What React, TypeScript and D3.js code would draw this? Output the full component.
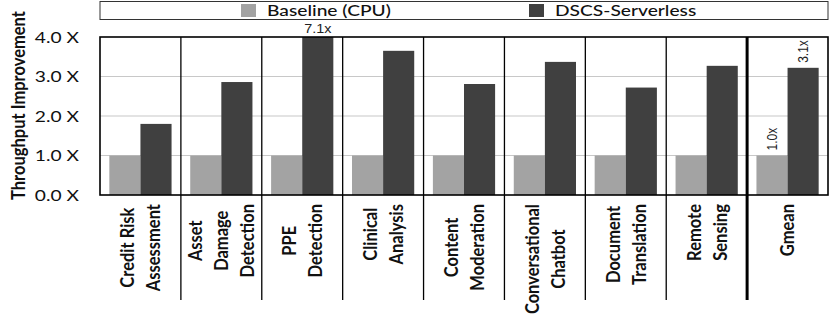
import React, { useRef, useEffect } from 'react';
import * as d3 from 'd3';

// category labels, one entry per line
const categories: string[][] = [
  ['Credit Risk', 'Assessment'],
  ['Asset', 'Damage', 'Detection'],
  ['PPE', 'Detection'],
  ['Clinical', 'Analysis'],
  ['Content', 'Moderation'],
  ['Conversational', 'Chatbot'],
  ['Document', 'Translation'],
  ['Remote', 'Sensing'],
  ['Gmean'],
];
const seriesNames = ['Baseline (CPU)', 'DSCS-Serverless'];
const baseline = [1, 1, 1, 1, 1, 1, 1, 1, 1];
const dscs = [1.8, 2.86, 7.1, 3.65, 2.81, 3.37, 2.72, 3.27, 3.22];
const yTicks = [0, 1, 2, 3, 4];
const yTickLabels = ['0.0 X', '1.0 X', '2.0 X', '3.0 X', '4.0 X'];
// value labels: category index, series index, text, rotated?
const barLabels = [
  { cat: 2, series: 1, text: '7.1x', rotated: false },
  { cat: 8, series: 0, text: '1.0x', rotated: true },
  { cat: 8, series: 1, text: '3.1x', rotated: true },
];

const colors = ['#a3a3a3', '#404040'];
const SX = 1.2; // the original picture is stretched horizontally
const FONT = 'Lato, "Open Sans", sans-serif';

function drawChart(node: SVGSVGElement) {
  const svg = d3.select(node);
  svg.selectAll('*').remove();

  const margin = { top: 37, right: 2, bottom: 121, left: 100 };
  const W = 830, H = 316;
  const innerW = W - margin.left - margin.right;
  const innerH = H - margin.top - margin.bottom;
  const maxY = 4;

  const x0 = d3.scaleBand<number>()
    .domain(categories.map((_, i) => i))
    .range([margin.left, margin.left + innerW]);
  const x1 = d3.scaleBand<number>()
    .domain([0, 1])
    .range([0, x0.bandwidth()])
    .paddingInner(0)
    .paddingOuter(0.3);
  const y = d3.scaleLinear().domain([0, maxY]).range([margin.top + innerH, margin.top]);

  // legend
  const lg = svg.append('g');
  lg.append('rect')
    .attr('x', margin.left).attr('y', 1.5)
    .attr('width', innerW).attr('height', 18)
    .attr('fill', 'white').attr('stroke', '#333').attr('stroke-width', 1);
  const legendX = [241, 529];
  seriesNames.forEach((name, i) => {
    lg.append('rect')
      .attr('x', legendX[i]).attr('y', 4)
      .attr('width', 15).attr('height', 13)
      .attr('fill', colors[i]);
    lg.append('text')
      .attr('transform', `translate(${legendX[i] + 26},${10.5}) scale(${SX},1)`)
      .attr('dy', '0.35em')
      .attr('font-family', FONT).attr('font-size', 16).attr('font-weight', 500)
      .attr('fill', '#111')
      .text(name);
  });

  // gridlines
  svg.append('g').selectAll('line')
    .data(yTicks.filter(t => t > 0 && t < maxY))
    .join('line')
    .attr('x1', margin.left).attr('x2', margin.left + innerW)
    .attr('y1', d => y(d)).attr('y2', d => y(d))
    .attr('stroke', '#c8c8c8').attr('stroke-width', 1.2);

  // bars
  const series = [baseline, dscs];
  const bars = svg.append('g');
  series.forEach((vals, s) => {
    bars.selectAll(`rect.s${s}`)
      .data(vals)
      .join('rect')
      .attr('class', `s${s}`)
      .attr('x', (_, i) => (x0(i) as number) + (x1(s) as number))
      .attr('width', x1.bandwidth())
      .attr('y', d => y(Math.min(d, maxY)))
      .attr('height', d => y(0) - y(Math.min(d, maxY)))
      .attr('fill', colors[s]);
  });

  // separators between categories, running down into the label area
  svg.append('g').selectAll('line')
    .data(categories.map((_, i) => i).filter(i => i > 0))
    .join('line')
    .attr('x1', i => x0(i) as number).attr('x2', i => x0(i) as number)
    .attr('y1', margin.top).attr('y2', 300)
    .attr('stroke', '#000')
    .attr('stroke-width', i => (i === categories.length - 1 ? 3 : 1.3));

  // frame
  svg.append('rect')
    .attr('x', margin.left).attr('y', margin.top)
    .attr('width', innerW).attr('height', innerH)
    .attr('fill', 'none').attr('stroke', '#000').attr('stroke-width', 1.6);

  // y ticks
  svg.append('g').selectAll('text')
    .data(yTicks)
    .join('text')
    .attr('transform', d => `translate(79,${y(d)}) scale(${SX},1)`)
    .attr('dy', '0.35em')
    .attr('text-anchor', 'end')
    .attr('font-family', FONT).attr('font-size', 16)
    .attr('fill', '#111')
    .text((_, i) => yTickLabels[i]);

  // y title
  svg.append('text')
    .attr('transform', `translate(18,${105.5}) scale(${SX},1) rotate(-90)`)
    .attr('dy', '0.35em')
    .attr('text-anchor', 'middle')
    .attr('font-family', FONT).attr('font-size', 16.5).attr('font-weight', 700)
    .attr('fill', '#111')
    .text('Throughput Improvement');

  // category labels: rotated, lines centred on each other, longest line starts at the top
  const labelTop = 204;
  const lineGap = 26;
  categories.forEach((lines, i) => {
    const cx = (x0(i) as number) + x0.bandwidth() / 2;
    const g = svg.append('g');
    const texts = lines.map(line =>
      g.append('text')
        .attr('dy', '0.35em')
        .attr('text-anchor', 'middle')
        .attr('font-family', FONT).attr('font-size', 16.5).attr('font-weight', 700)
        .attr('fill', '#111')
        .text(line)
    );
    const maxLen = d3.max(texts, t => (t.node() as SVGTextElement).getComputedTextLength()) || 0;
    const cy = labelTop + maxLen / 2;
    texts.forEach((t, k) => {
      const lx = cx + (k - (lines.length - 1) / 2) * lineGap;
      t.attr('transform', `translate(${lx},${cy}) scale(${SX},1) rotate(-90)`);
    });
  });

  // value labels
  svg.append('g').selectAll('text')
    .data(barLabels)
    .join('text')
    .attr('transform', d => {
      const cx = (x0(d.cat) as number) + (x1(d.series) as number) + x1.bandwidth() / 2;
      const v = Math.min(series[d.series][d.cat], maxY);
      if (d.rotated) return `translate(${cx},${y(v) - 5}) scale(${SX},1) rotate(-90)`;
      return `translate(${cx},${margin.top - 4}) scale(${SX},1)`;
    })
    .attr('dy', d => (d.rotated ? '0.35em' : 0))
    .attr('text-anchor', d => (d.rotated ? 'start' : 'middle'))
    .attr('font-family', '"Liberation Sans", Arial, sans-serif').attr('font-size', 12)
    .attr('fill', '#222')
    .text(d => d.text);
}

export default function App() {
  const ref = useRef<SVGSVGElement>(null);
  useEffect(() => {
    if (ref.current) drawChart(ref.current);
  }, []);
  return (
    <svg
      ref={ref}
      width={830}
      height={316}
      style={{ position: 'absolute', left: 0, top: 0, background: 'white' }}
    />
  );
}
